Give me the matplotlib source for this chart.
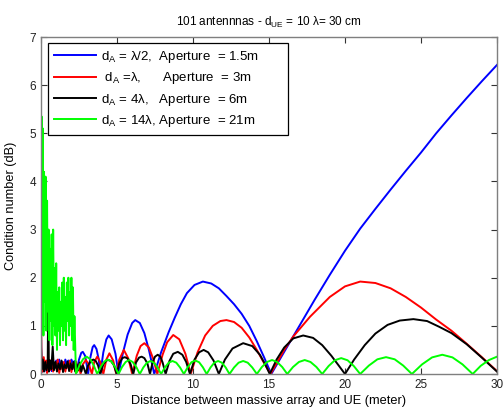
import matplotlib
matplotlib.use("Agg")
import matplotlib.pyplot as plt

plt.rcParams['font.family'] = ['Liberation Sans', 'DejaVu Sans']
plt.rcParams['mathtext.default'] = 'regular'

# ---------------- data ----------------
title = "101 antennnas - d$_{UE}$ = 10 λ= 30 cm"
xlabel = "Distance between massive array and UE (meter)"
ylabel = "Condition number (dB)"
labels = ["d$_A$ = λ/2,  Aperture  = 1.5m",
          " d$_A$ =λ,      Aperture  = 3m",
          "d$_A$ = 4λ,   Aperture  = 6m",
          "d$_A$ = 14λ, Aperture  = 21m"]
colors = ["#0000ff", "#ff0000", "#000000", "#00ff00"]
xticks = [0, 5, 10, 15, 20, 25, 30]
yticks = [0, 1, 2, 3, 4, 5, 6, 7]

blue_x = [0.0, 0.03, 0.08, 0.15, 0.22, 0.3, 0.38, 0.45, 0.55, 0.62, 0.7, 0.8, 0.9, 1.0, 1.1, 1.2,
          1.3, 1.4, 1.5, 1.6, 1.7, 1.8, 1.9, 2.0, 2.1, 2.2, 2.3,
          2.35, 2.5, 2.65, 2.75, 2.9, 3.0, 3.1,
          3.25, 3.4, 3.5, 3.65, 3.8, 3.9,
          4.1, 4.3, 4.45, 4.65, 4.9, 5.1,
          5.4, 5.7, 6.0, 6.2, 6.5, 6.8, 7.1, 7.45,
          7.9, 8.4, 8.8, 9.2, 9.6, 10.1, 10.65, 11.2, 11.7, 12.2, 12.7, 13.2, 13.7, 14.2, 14.7, 15.15,
          16.0, 17.0, 18.0, 19.0, 20.0, 21.0, 22.0, 23.0, 24.0, 25.0, 26.0, 27.0, 28.0, 29.0, 30.0]
blue_y = [0.9, 0.2, 0.05, 0.25, 0.1, 0.2, 0.04, 0.3, 0.1, 0.22, 0.06, 0.25, 0.14, 0.28, 0.08, 0.3,
          0.15, 0.25, 0.12, 0.3, 0.2, 0.28, 0.15, 0.3, 0.22, 0.27, 0.12,
          0.05, 0.3, 0.44, 0.46, 0.38, 0.2, 0.0,
          0.35, 0.56, 0.6, 0.52, 0.3, 0.0,
          0.45, 0.72, 0.8, 0.72, 0.42, 0.0,
          0.45, 0.82, 1.06, 1.12, 1.06, 0.85, 0.5, 0.0,
          0.45, 0.87, 1.17, 1.45, 1.68, 1.85, 1.92, 1.88, 1.78, 1.62, 1.45, 1.25, 1.0, 0.68, 0.33, 0.0,
          0.46, 1.0, 1.54, 2.06, 2.56, 3.02, 3.43, 3.83, 4.22, 4.6, 5.0, 5.37, 5.73, 6.08, 6.42]

red_x = [0.0, 0.03, 0.1, 0.18, 0.25, 0.33, 0.4, 0.5, 0.6, 0.7, 0.8, 0.9, 1.0, 1.1, 1.2, 1.3,
         1.4, 1.5, 1.6, 1.7, 1.8, 1.9, 2.0, 2.1, 2.2, 2.3, 2.4, 2.5, 2.6,
         2.75, 2.95, 3.15, 3.35,
         3.5, 3.7, 3.9, 4.1,
         4.3, 4.5, 4.75, 4.95,
         5.15, 5.45, 5.75, 6.0,
         6.3, 6.55, 6.8, 7.1, 7.4, 7.65,
         8.0, 8.3, 8.7, 9.1, 9.5, 9.85,
         10.3, 10.8, 11.3, 11.8, 12.2, 12.7, 13.2, 13.7, 14.2, 14.6, 15.1,
         16.0, 16.6, 17.7, 19.0, 20.0, 21.0, 22.0, 23.0, 24.0, 25.0, 26.0, 27.0, 28.0, 29.0, 30.0]
red_y = [1.6, 0.3, 0.05, 0.35, 0.1, 0.28, 0.02, 0.22, 0.08, 0.3, 0.05, 0.2, 0.12, 0.3, 0.02, 0.18,
         0.1, 0.25, 0.05, 0.2, 0.12, 0.28, 0.04, 0.22, 0.1, 0.26, 0.05, 0.2, 0.0,
         0.2, 0.29, 0.2, 0.0,
         0.25, 0.36, 0.25, 0.0,
         0.3, 0.43, 0.28, 0.0,
         0.3, 0.5, 0.32, 0.0,
         0.38, 0.58, 0.64, 0.55, 0.3, 0.0,
         0.4, 0.66, 0.81, 0.72, 0.42, 0.0,
         0.45, 0.8, 1.0, 1.1, 1.12, 1.08, 0.96, 0.76, 0.5, 0.27, 0.0,
         0.5, 0.78, 1.19, 1.6, 1.82, 1.92, 1.89, 1.78, 1.6, 1.38, 1.13, 0.9, 0.63, 0.35, 0.06]

black_x = [0.0, 0.05, 0.12, 0.2, 0.28, 0.36, 0.44, 0.48, 0.52, 0.6, 0.68, 0.77, 0.85, 0.95, 1.05,
           1.15, 1.25, 1.35, 1.45, 1.55, 1.65, 1.75, 1.85, 1.95, 2.05, 2.15, 2.25, 2.35, 2.45,
           2.55, 2.65, 2.75, 2.85, 2.95,
           3.1, 3.3, 3.45, 3.6, 3.75, 3.9,
           4.1, 4.3, 4.44, 4.6, 4.8, 4.98,
           5.15, 5.35, 5.52, 5.7, 5.9, 6.07,
           6.25, 6.45, 6.62, 6.8, 7.0, 7.17,
           7.35, 7.5, 7.68, 7.85, 8.0, 8.2,
           8.45, 8.7, 9.0, 9.3, 9.55, 9.8,
           10.1, 10.4, 10.7, 11.0, 11.35, 11.7,
           12.1, 12.6, 13.3, 13.9, 14.4, 14.75, 15.05,
           15.5, 16.0, 16.6, 17.25, 17.9, 18.5, 19.1, 19.6, 20.0,
           20.6, 21.3, 22.0, 22.8, 23.6, 24.5, 25.4, 26.2, 27.0, 28.0, 29.0, 30.0]
black_y = [0.57, 0.1, 0.3, 0.05, 0.25, 0.08, 0.2, 1.75, 0.05, 0.28, 0.1, 0.57, 0.08, 0.25, 0.05,
           0.22, 0.1, 0.28, 0.04, 0.2, 0.12, 0.26, 0.06, 0.22, 0.1, 0.25, 0.05, 0.2, 0.08,
           0.24, 0.05, 0.18, 0.1, 0.0,
           0.18, 0.28, 0.3, 0.27, 0.18, 0.0,
           0.2, 0.28, 0.29, 0.27, 0.18, 0.0,
           0.22, 0.33, 0.35, 0.32, 0.2, 0.0,
           0.24, 0.34, 0.36, 0.33, 0.22, 0.0,
           0.25, 0.36, 0.4, 0.36, 0.24, 0.0,
           0.27, 0.42, 0.46, 0.4, 0.25, 0.0,
           0.3, 0.45, 0.5, 0.45, 0.28, 0.0,
           0.3, 0.53, 0.64, 0.58, 0.4, 0.2, 0.0,
           0.3, 0.55, 0.74, 0.8, 0.75, 0.6, 0.38, 0.17, 0.0,
           0.3, 0.6, 0.84, 1.02, 1.11, 1.14, 1.1, 0.98, 0.85, 0.62, 0.34, 0.05]

green_x = [0.0, 0.04, 0.08, 0.12, 0.16, 0.2, 0.25, 0.3, 0.35, 0.4, 0.45, 0.5, 0.55, 0.6, 0.65,
           0.7, 0.75, 0.8, 0.85, 0.9, 0.95, 1.0, 1.05, 1.1, 1.15, 1.2, 1.25, 1.3, 1.35, 1.4,
           1.45, 1.5, 1.55, 1.6, 1.65, 1.7, 1.75, 1.8, 1.85, 1.9, 1.95, 2.0, 2.05, 2.1, 2.15,
           2.2, 2.3,
           2.53, 2.77, 3.0, 3.23, 3.47, 3.7,
           3.93, 4.17, 4.4, 4.63, 4.87, 5.1,
           5.33, 5.57, 5.8, 6.03, 6.27, 6.5,
           6.73, 6.97, 7.2, 7.43, 7.67, 7.9,
           8.15, 8.4, 8.65, 8.9, 9.15, 9.4,
           9.65, 9.9, 10.15, 10.4, 10.65, 10.9,
           11.15, 11.4, 11.65, 11.9, 12.15, 12.4,
           12.7, 13.0, 13.3, 13.6, 13.9, 14.2,
           14.53, 14.87, 15.2, 15.53, 15.87, 16.2,
           16.58, 16.97, 17.35, 17.73, 18.12, 18.5,
           18.92, 19.33, 19.75, 20.17, 20.58, 21.0,
           21.57, 22.13, 22.7, 23.27, 23.83, 24.4,
           25.07, 25.73, 26.4, 27.07, 27.73, 28.4,
           28.93, 29.47, 30.0]
green_y = [0.3, 5.35, 1.2, 5.1, 0.8, 4.2, 1.5, 4.1, 0.9, 3.6, 1.3, 3.0, 0.7, 2.6, 1.1,
           2.9, 0.6, 3.0, 1.0, 2.2, 0.8, 2.3, 0.5, 1.7, 0.9, 1.8, 0.6, 1.5, 1.0, 1.9,
           0.7, 2.0, 0.9, 1.6, 0.6, 1.9, 1.1, 2.0, 0.8, 1.7, 1.0, 2.0, 0.7, 1.8, 0.5,
           1.2, 0.0,
           0.18, 0.31, 0.36, 0.31, 0.18, 0.0,
           0.15, 0.26, 0.3, 0.26, 0.15, 0.0,
           0.145, 0.25, 0.29, 0.25, 0.145, 0.0,
           0.135, 0.235, 0.27, 0.235, 0.135, 0.0,
           0.135, 0.235, 0.27, 0.235, 0.135, 0.0,
           0.14, 0.245, 0.28, 0.245, 0.14, 0.0,
           0.135, 0.235, 0.27, 0.235, 0.135, 0.0,
           0.135, 0.235, 0.27, 0.235, 0.135, 0.0,
           0.145, 0.25, 0.29, 0.25, 0.145, 0.0,
           0.145, 0.25, 0.29, 0.25, 0.145, 0.0,
           0.165, 0.285, 0.33, 0.285, 0.165, 0.0,
           0.175, 0.305, 0.35, 0.305, 0.175, 0.0,
           0.2, 0.345, 0.4, 0.345, 0.2, 0.0,
           0.17, 0.29, 0.36]

# ---------------- plotting ----------------
fig = plt.figure(figsize=(5.03, 4.11), dpi=100)
ax = fig.add_axes([41/503, 1-374/411, 456/503, 337/411])

series = [(blue_x, blue_y), (red_x, red_y), (black_x, black_y), (green_x, green_y)]
for (xs, ys), c, lab in zip(series, colors, labels):
    ax.plot(xs, ys, color=c, lw=1.4, label=lab)

ax.set_xlim(0, 30)
ax.set_ylim(0, 7)
ax.set_xticks(xticks)
ax.set_yticks(yticks)
ax.tick_params(direction='in', top=True, right=True, length=4, width=0.8,
               labelsize=8.5, colors='#333333', labelcolor='#222222')
for s in ax.spines.values():
    s.set_color('#7f7f7f')
    s.set_linewidth(1.0)

ax.set_title(title, fontsize=8.5, pad=8)
ax.set_xlabel(xlabel, fontsize=9.2, labelpad=3)
ax.set_ylabel(ylabel, fontsize=9.2, labelpad=9)

leg = ax.legend(loc='upper left', bbox_to_anchor=(0.015, 0.70, 0.526, 0.282), mode='expand',
                fontsize=9.5, fancybox=False, framealpha=1, edgecolor='black', handlelength=3.2,
                labelspacing=0.4, borderaxespad=0, handletextpad=0.4, borderpad=0.45)
leg.get_frame().set_linewidth(0.9)

fig.savefig("out.png", dpi=100)
